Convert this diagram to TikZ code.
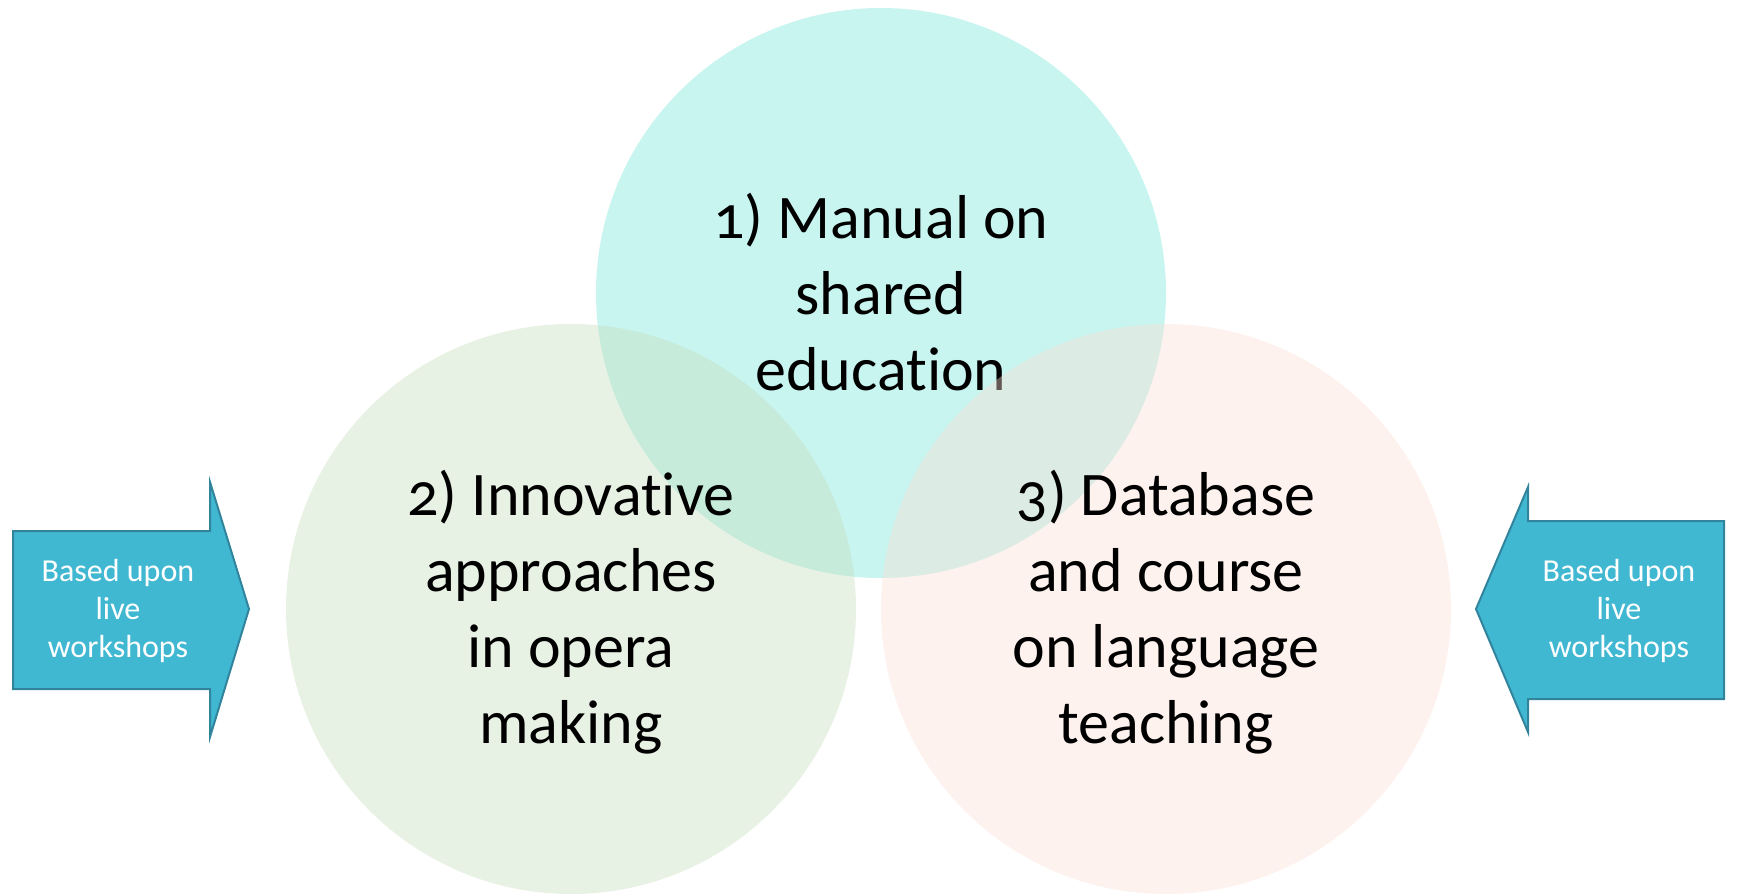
\documentclass[tikz,border=0pt]{standalone}
\usepackage{fontspec}
\setmainfont{Carlito}[Numbers=OldStyle, Ligatures={NoCommon,NoContextual}]
\definecolor{topc}{RGB}{200,245,240}
\definecolor{leftc}{RGB}{197,222,187}
\definecolor{rightc}{RGB}{250,222,212}
\definecolor{arrfill}{RGB}{65,184,210}
\definecolor{arrline}{RGB}{49,132,155}
\tikzset{
  bubble/.style={circle, draw=none, minimum size=570pt*0.5, inner sep=0pt},
  bigtext/.style={align=center, font=\fontsize{31}{38}\selectfont, text=black, inner sep=0pt},
  arrowshape/.style={fill=arrfill, draw=arrline, line width=1pt, line join=miter},
  arrtext/.style={align=center, font=\fontsize{16}{18.9}\selectfont, text=white, inner sep=0pt}
}
\begin{document}
\begin{tikzpicture}[x=0.5pt,y=-0.5pt]
\useasboundingbox (0,0) rectangle (1741,894);
% top circle and its text
\node[bubble, fill=topc] (c1) at (881,293) {};
\node[bigtext] (t1) at (881,292) {1) Manual on\\shared\\education};
% left and right circles (translucent)
\node[bubble, fill=leftc, fill opacity=0.4] (c2) at (571,609) {};
\node[bubble, fill=rightc, fill opacity=0.4] (c3) at (1166,609) {};
\node[bigtext] (t2) at (571,612) {2) Innovative\\approaches\\in opera\\making};
\node[bigtext] (t3) at (1166,612) {3) Database\\and course\\on language\\teaching};
% arrows
\draw[arrowshape] (13,531) -- (210,531) -- (210,482) -- (249,609) -- (210,737) -- (210,689) -- (13,689) -- cycle;
\draw[arrowshape] (1724,521) -- (1528,521) -- (1528,487) -- (1476,609) -- (1528,732) -- (1528,699) -- (1724,699) -- cycle;
\node[arrtext] (a1) at (118,611) {Based upon\\live\\workshops};
\node[arrtext] (a2) at (1619,611) {Based upon\\live\\workshops};
\end{tikzpicture}
\end{document}
